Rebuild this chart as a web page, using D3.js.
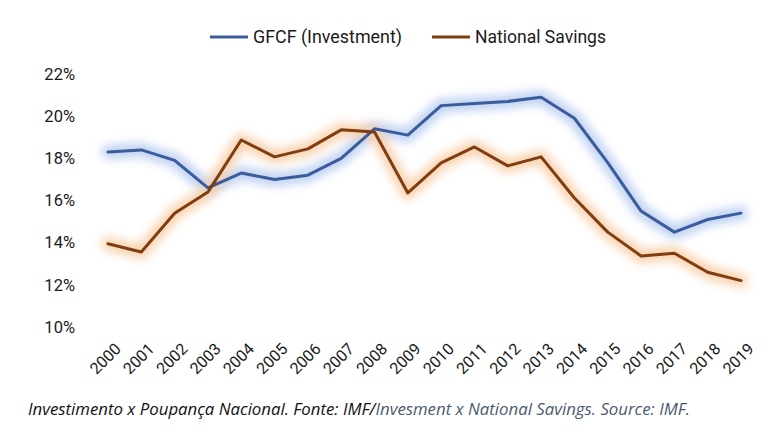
<!DOCTYPE html>
<html><head><meta charset="utf-8">
<script src="https://cdn.jsdelivr.net/npm/d3@7"></script>
<style>html,body{margin:0;padding:0;background:#fff;}svg{display:block;}</style>
</head><body>
<script>
const years = ["2000","2001","2002","2003","2004","2005","2006","2007","2008","2009","2010","2011","2012","2013","2014","2015","2016","2017","2018","2019"];
const gfcf = [18.3,18.4,17.9,16.6,17.3,17.0,17.2,18.0,19.4,19.1,20.5,20.6,20.7,20.9,19.9,17.8,15.5,14.5,15.1,15.4];
const savings = [13.95,13.56,15.4,16.4,18.87,18.07,18.45,19.35,19.25,16.36,17.78,18.54,17.64,18.07,16.12,14.5,13.37,13.5,12.6,12.2];
const yTicks = [10,12,14,16,18,20,22];
const seriesNames = ["GFCF (Investment)","National Savings"];
const colors = ["#3a5c9c","#7f3d10"];
const glowColors = ["#b9cdf0","#f7cfa9"];

const W=768,H=446;
const svg=d3.select("body").append("svg").attr("width",W).attr("height",H);
const defs=svg.append("defs");
const f=defs.append("filter").attr("id","glow").attr("x","-20%").attr("y","-20%").attr("width","140%").attr("height","140%");
f.append("feGaussianBlur").attr("stdDeviation",5);

const x=d3.scalePoint().domain(years).range([108,741]);
const y=d3.scaleLinear().domain([10,22]).range([327,74]);

// y axis labels
svg.append("g").selectAll("text").data(yTicks).join("text")
  .attr("x",75).attr("y",d=>y(d)).attr("dy","0.35em").attr("text-anchor","end")
  .attr("font-family","Roboto, sans-serif").attr("font-size",16.5).attr("fill","#1a1a1a")
  .text(d=>d+"%");

// x axis labels
svg.append("g").selectAll("text").data(years).join("text")
  .attr("transform",d=>`translate(${x(d)+6},${342}) rotate(-45)`)
  .attr("text-anchor","end").attr("dy","0.7em")
  .attr("font-family","Roboto, sans-serif").attr("font-size",16).attr("fill","#1a1a1a")
  .text(d=>d);

const line=d3.line().x((d,i)=>x(years[i])).y(d=>y(d));
const data=[gfcf,savings];
// glows
data.forEach((s,k)=>{
  svg.append("path").datum(s).attr("d",line).attr("fill","none")
    .attr("stroke",glowColors[k]).attr("stroke-width",14).attr("stroke-linejoin","round").attr("stroke-linecap","round")
    .attr("filter","url(#glow)").attr("opacity",0.9);
});
data.forEach((s,k)=>{
  svg.append("path").datum(s).attr("d",line).attr("fill","none")
    .attr("stroke",colors[k]).attr("stroke-width",3).attr("stroke-linejoin","round").attr("stroke-linecap","round");
});

// legend
const leg=[{x:210,tx:253,w:149},{x:432,tx:475,w:131}];
seriesNames.forEach((n,k)=>{
  svg.append("line").attr("x1",leg[k].x).attr("x2",leg[k].x+38).attr("y1",37).attr("y2",37)
    .attr("stroke",colors[k]).attr("stroke-width",3);
  svg.append("text").attr("x",leg[k].tx).attr("y",37).attr("dy","0.35em")
    .attr("font-family","Roboto, sans-serif").attr("font-size",17.5).attr("fill","#1a1a1a")
    .attr("textLength",leg[k].w).attr("lengthAdjust","spacingAndGlyphs").text(n);
});

// caption
const cap=svg.append("text").attr("x",28).attr("y",415)
  .attr("font-family","'Open Sans', sans-serif").attr("font-style","italic").attr("font-size",15.5)
  .attr("textLength",662).attr("lengthAdjust","spacingAndGlyphs");
cap.append("tspan").attr("fill","#111").text("Investimento x Poupança Nacional. Fonte: IMF/");
cap.append("tspan").attr("fill","#4a5a70").text("Invesment x National Savings. Source: IMF.");
</script>
</body></html>
